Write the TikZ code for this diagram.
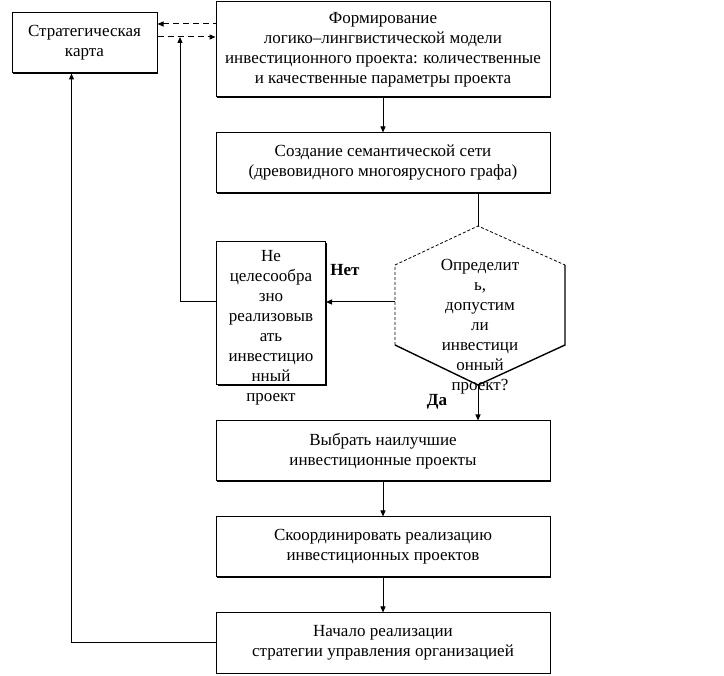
\documentclass[tikz,border=0pt]{standalone}
\usepackage{fontspec}
\setmainfont{Liberation Serif}
\usetikzlibrary{arrows.meta,calc,shadows}

\begin{document}
\begin{tikzpicture}
  [
    x=1pt, y=-1pt, line width=1pt,
    block/.style =
      {draw, rectangle, align=center, minimum width=334pt, minimum height=60pt,
       inner sep=0pt, fill=white, font=\fontsize{17}{20}\selectfont,
       drop shadow={shadow xshift=1pt, shadow yshift=-1pt, opacity=1, fill=black}},
    btext/.style =
      {align=center, inner sep=0pt, font=\fontsize{17}{20}\selectfont},
    sarrow/.style =
      {>={Triangle[length=6pt, width=5pt]}},
    darrow/.style =
      {dash pattern=on 6pt off 4pt, >={Triangle[length=6pt, width=5pt]}},
    answer/.style =
      {font=\bfseries\fontsize{17}{20}\selectfont}
  ]

\useasboundingbox (0,0) rectangle (724,676);

\node[block, minimum width=145pt] (map) at (84.5,43) {Стратегическая\\карта};
\node[block, minimum height=95pt] (form) at (383,49.5)
  {Формирование\\логико--лингвистической модели\\инвестиционного проекта: количественные\\и качественные параметры проекта};
\node[block] (net) at (383,163) {Создание семантической сети\\(древовидного многоярусного графа)};
\node[block] (best) at (383,451) {Выбрать наилучшие\\инвестиционные проекты};
\node[block] (coord) at (383,547) {Скоординировать реализацию\\инвестиционных проектов};
\node[block] (start) at (383,643) {Начало реализации\\стратегии управления организацией};

\node[block, minimum width=109pt, minimum height=143pt] (no) at (271,313.5) {};
\node[btext] (notext) at (271,328)
  {Не\\целесообра\\зно\\реализовыв\\ать\\инвестицио\\нный\\проект};

% hexagon
\coordinate (ht) at (478,226);
\coordinate (hul) at (395,265);
\coordinate (hll) at (395,345);
\coordinate (hb) at (478,385);
\coordinate (hlr) at (565,345);
\coordinate (hur) at (565,265);
\coordinate (hl) at (395,302);
\draw [dash pattern=on 3pt off 2pt, line width=0.8pt] (hll) -- (hul) -- (ht) -- (hur);
\draw [line width=1.4pt] (hur) -- (hlr) -- (hb) -- (hll);
\node[btext] (ask) at (480,327)
  {Определит\\ь,\\допустим\\ли\\инвестици\\онный\\проект?};

\node[answer] (nolabel) at (345,270) {Нет};
\node[answer] (yeslabel) at (437,402) {Да};

\coordinate (up) at (180,37);

\draw [<-, darrow] ($(map.east)+(0,-19)$) -- ($(form.west)+(0,-25.5)$);
\draw [->, darrow] ($(map.east)+(0,-6)$) -- ($(form.west)+(0,-12.5)$);

\draw [->, sarrow] (form) -- (net);
\draw (net.south -| ht) -- (ht);
\draw [->, sarrow] (hl) -- (no.east |- hl);
\draw [->, sarrow] (no.west |- hl) -| (up);
\draw [->, sarrow] (hb) -- (best.north -| hb);
\draw [->, sarrow] (best) -- (coord);
\draw [->, sarrow] (coord) -- (start);
\draw [->, sarrow] (start.west) -| ($(map.south west)+(60,0)$);

\end{tikzpicture}
\end{document}
